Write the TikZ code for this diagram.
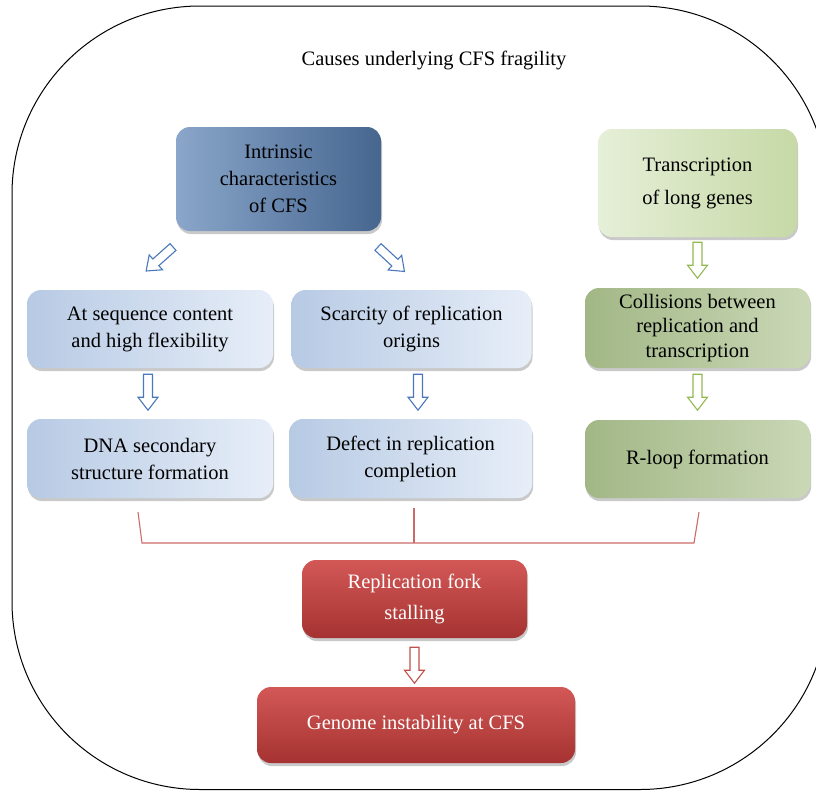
\documentclass[tikz,border=0pt]{standalone}
\usepackage{fontspec}
\setmainfont{Liberation Serif}
\usetikzlibrary{shadows,calc}
\definecolor{bdark1}{HTML}{8AA6CA}
\definecolor{bdark2}{HTML}{46668F}
\definecolor{blite1}{HTML}{B7CAE4}
\definecolor{blite2}{HTML}{E7EEF8}
\definecolor{glite1}{HTML}{E6EFD8}
\definecolor{glite2}{HTML}{C6D9A6}
\definecolor{gmid1}{HTML}{A2B786}
\definecolor{gmid2}{HTML}{CAD8B6}
\definecolor{rtop}{HTML}{D25856}
\definecolor{rbot}{HTML}{A53331}
\definecolor{barblue}{HTML}{4A78BA}
\definecolor{bargreen}{HTML}{94B852}
\definecolor{barred}{HTML}{C0504D}
\definecolor{brk}{HTML}{CC6A6A}
\tikzset{
  box/.style={rounded corners=14pt, align=center, inner sep=2pt,
    drop shadow={shadow xshift=1pt, shadow yshift=-3pt, opacity=0.3, fill=black!70}},
  darkblue/.style={box, left color=bdark1, right color=bdark2},
  liteblue/.style={box, left color=blite1, right color=blite2},
  litegreen/.style={box, left color=glite1, right color=glite2},
  midgreen/.style={box, left color=gmid1, right color=gmid2},
  redbox/.style={box, top color=rtop, bottom color=rbot, text=white},
  brack/.style={draw=brk, line width=1.1pt},
}
% block arrow: colour, start point, angle
\newcommand\blockarr[3]{%
  \draw[#1, line width=1.1pt, fill=white, shift={(#2)}, rotate=#3]
    (0,-4.5) -- (23,-4.5) -- (23,-10) -- (36,0) -- (23,10) -- (23,4.5) -- (0,4.5) -- cycle;}
\begin{document}
\begin{tikzpicture}[x=1pt,y=1pt, font=\fontsize{20.5}{27}\selectfont]
\useasboundingbox (0,0) rectangle (816,-790);
\clip (0,0) rectangle (816,-790);
\draw[line width=1pt, rounded corners=188pt] (12,-6) rectangle (828,-789.5);
\node[font=\fontsize{20.5}{24}\selectfont] (title) at (434,-60) {Causes underlying CFS fragility};

\node[darkblue, minimum width=205, minimum height=104] (intr) at (278.5,-179) {Intrinsic\\characteristics\\of CFS};
\node[litegreen, minimum width=199, minimum height=108, font=\fontsize{20.5}{33}\selectfont] (trans) at (697.5,-183) {Transcription\\of long genes};

\node[liteblue, minimum width=246, minimum height=78] (seq) at (150,-329) {At sequence content\\and high flexibility};
\node[liteblue, minimum width=240, minimum height=78] (scar) at (411.5,-329) {Scarcity of replication\\origins};
\node[midgreen, minimum width=225, minimum height=80, font=\fontsize{20.5}{24.5}\selectfont] (coll) at (697.5,-328) {Collisions between\\replication and\\transcription};

\node[liteblue, minimum width=246, minimum height=79] (dna) at (150,-458.5) {DNA secondary\\structure formation};
\node[liteblue, minimum width=243, minimum height=79] (defect) at (410.5,-458.5) {Defect in replication\\completion};
\node[midgreen, minimum width=225, minimum height=78] (rloop) at (697.5,-459) {R-loop formation};

\node[redbox, minimum width=225, minimum height=78, font=\fontsize{20.5}{31}\selectfont] (stall) at (414.5,-599) {Replication fork\\stalling};
\node[redbox, minimum width=318, minimum height=76] (genome) at (416,-725) {Genome instability at CFS};

% block arrows
\blockarr{barblue}{173,-247}{221.8}
\blockarr{barblue}{378,-247}{-42.8}
\blockarr{barblue}{$(seq.south)+(-2,-6)$}{-90}
\blockarr{barblue}{$(scar.south)+(6.5,-6)$}{-90}
\blockarr{bargreen}{$(trans.south)+(0,-5)$}{-90}
\blockarr{bargreen}{$(coll.south)+(0,-6)$}{-90}
\blockarr{barred}{$(stall.south)+(0,-9)$}{-90}

% bracket
\coordinate (b1) at (138,-512);
\coordinate (b2) at (142,-543);
\coordinate (b3) at (694,-543);
\coordinate (b4) at (699,-512);
\coordinate (m1) at (414,-508);
\coordinate (m2) at (414,-543);
\draw[brack] (b1) -- (b2) -- (b3) -- (b4);
\draw[brack] (m1) -- (m2);
\end{tikzpicture}
\end{document}
